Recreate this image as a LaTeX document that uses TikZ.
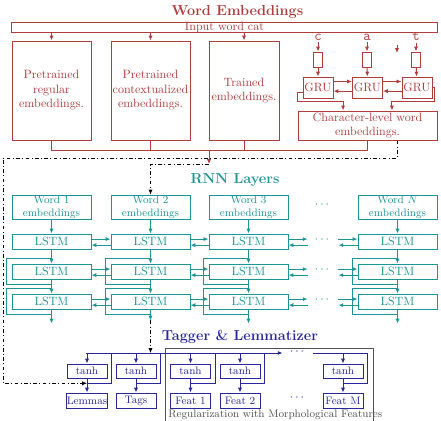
\documentclass[tikz,border=0pt]{standalone}
\usepackage{amsmath}
\usetikzlibrary{arrows.meta}
\definecolor{embred}{RGB}{176,60,60}
\definecolor{rnnteal}{RGB}{30,148,148}
\definecolor{tagblue}{RGB}{40,40,155}
\definecolor{reggray}{RGB}{80,80,80}

\begin{document}
\begin{tikzpicture}[x=0.83pt, y=-0.83pt, line width=0.8pt,
  tip/.style={-{Latex[length=4pt,width=3.4pt]}},
  redbox/.style={draw=embred, text=embred, align=center, inner sep=0pt},
  gru/.style={redbox, minimum width=24.9pt, minimum height=17.4pt},
  tealbox/.style={draw=rnnteal, text=rnnteal, align=center, inner sep=0pt, minimum width=65.6pt},
  lstm/.style={tealbox, minimum height=12.45pt},
  wordbox/.style={tealbox, font=\small, minimum height=19.9pt},
  bluebox/.style={draw=tagblue, text=tagblue, inner sep=0pt, font=\small, minimum width=33.2pt},
  dots/.style={inner xsep=5.7pt, inner ysep=0pt},
  dd/.style={black, dash dot, line width=0.6pt},
  title/.style={font=\large\bfseries, inner sep=1pt}]

\useasboundingbox (0,0) rectangle (441,420);

% word embeddings
\path
(237.5,12) node[title, text=embred] (ttlemb) {Word Embeddings};
\node[redbox, minimum width=352.8pt, minimum height=8.3pt, text height=6pt, text depth=1pt] (input) at (224.5,27) {Input word cat};
\node[redbox, minimum width=65.6pt, minimum height=82.2pt] (emb1) at (51.5,90.5) {Pretrained\\regular\\embeddings.};
\node[redbox, minimum width=65.6pt, minimum height=82.2pt] (emb2) at (150.5,90.5) {Pretrained\\contextualized\\embeddings.};
\node[redbox, minimum width=58.1pt, minimum height=82.2pt] (emb3) at (244,90.5) {Trained\\embeddings.};
\node[redbox, minimum width=115.4pt, minimum height=24.1pt] (chr) at (367.5,125.5) {Character-level word\\embeddings.};

\node[text=embred, font=\large\ttfamily, inner sep=1pt] (chc) at (318,37) {c};
\node[text=embred, font=\large\ttfamily, inner sep=1pt] (cha) at (367,37) {a};
\node[text=embred, font=\large\ttfamily, inner sep=1pt] (cht) at (416,37) {t};
\node[redbox, minimum width=7.5pt, minimum height=12.45pt] (sbc) at (318,59.5) {};
\node[redbox, minimum width=7.5pt, minimum height=12.45pt] (sba) at (367,59.5) {};
\node[redbox, minimum width=7.5pt, minimum height=12.45pt] (sbt) at (416,59.5) {};
\node[gru] (gruc) at (318,87.5) {GRU};
\node[gru] (grua) at (367.5,87.5) {GRU};
\node[gru] (grut) at (417,87.5) {GRU};
\coordinate (stray) at (397,45);

\draw[embred, tip] (input.south -| emb1.north) -- (emb1.north);
\draw[embred, tip] (input.south -| emb2.north) -- (emb2.north);
\draw[embred, tip] (input.south -| emb3.north) -- (emb3.north);
\draw[embred, tip] (stray) -- ++(0,8);
\draw[embred, tip] (chc) -- (sbc);
\draw[embred, tip] (cha) -- (sba);
\draw[embred, tip] (cht) -- (sbt);
\draw[embred, tip] (sbc) -- (gruc);
\draw[embred, tip] (sba) -- (grua);
\draw[embred, tip] (sbt) -- (grut);
\draw[embred, tip] ([yshift=5pt]gruc.east) -- ([yshift=5pt]grua.west);
\draw[embred, tip] ([yshift=-3pt]grua.west) -- ([yshift=-3pt]gruc.east);
\draw[embred, tip] ([yshift=5pt]grua.east) -- ([yshift=5pt]grut.west);
\draw[embred, tip] ([yshift=-3pt]grut.west) -- ([yshift=-3pt]grua.east);
\draw[embred, tip] ([yshift=-4pt]gruc.west) -- ++(-5,0) |- ([xshift=-20.3pt,yshift=7.5pt]chr.north) -- ([xshift=-20.3pt]chr.north);
\draw[embred, tip] (grut.east) -- ++(2,0) |- ([xshift=20.3pt,yshift=7.5pt]chr.north) -- ([xshift=20.3pt]chr.north);

\draw[embred] (emb1.south) -- ++(0,10) -| (chr.south);
\draw[embred] (emb2.south) -- ++(0,10);
\draw[embred] (emb3.south) -- ++(0,10);
\coordinate (embout) at (209,150);
\draw[embred, tip] (embout) -- ++(0,14) coordinate (embtip);
\coordinate (ddleft) at (3,158);

% rnn layers
\path
(235,180) node[title, text=rnnteal] (ttlrnn) {RNN Layers};
\node[wordbox] (w1) at (51.5,207) {Word 1\\embeddings};
\node[wordbox] (w2) at (150.5,207) {Word 2\\embeddings};
\node[wordbox] (w3) at (248.5,207) {Word 3\\embeddings};
\node[wordbox] (w4) at (397.5,207) {Word $N$\\embeddings};
\node[text=rnnteal] (wdots) at (323,205) {$\cdots$};

\node[lstm] (l11) at (51.5,241.5) {LSTM};
\node[lstm] (l12) at (150.5,241.5) {LSTM};
\node[lstm] (l13) at (248.5,241.5) {LSTM};
\node[lstm] (l14) at (397.5,241.5) {LSTM};
\node[lstm] (l21) at (51.5,271.5) {LSTM};
\node[lstm] (l22) at (150.5,271.5) {LSTM};
\node[lstm] (l23) at (248.5,271.5) {LSTM};
\node[lstm] (l24) at (397.5,271.5) {LSTM};
\node[lstm] (l31) at (51.5,301.5) {LSTM};
\node[lstm] (l32) at (150.5,301.5) {LSTM};
\node[lstm] (l33) at (248.5,301.5) {LSTM};
\node[lstm] (l34) at (397.5,301.5) {LSTM};
\node[dots, text=rnnteal] (d1) at (323,240) {$\cdots$};
\node[dots, text=rnnteal] (d2) at (323,270) {$\cdots$};
\node[dots, text=rnnteal] (d3) at (323,300) {$\cdots$};

\foreach \c in {1,...,4} {
  \draw[rnnteal, tip] (w\c) -- (l1\c);
  \draw[rnnteal, tip] (l1\c) -- (l2\c);
  \draw[rnnteal, tip] (l2\c) -- (l3\c);
  \draw[rnnteal] ([yshift=4.5pt]l2\c.north) -| ([xshift=-4pt,yshift=-4pt]l2\c.south west) -- ([yshift=-4pt]l2\c.south);
  \draw[rnnteal] ([yshift=4.5pt]l3\c.north) -| ([xshift=-4pt,yshift=-4pt]l3\c.south west) -- ([yshift=-4pt]l3\c.south);
}
\draw[rnnteal, tip] (l31.south) -- ++(0,14);
\draw[rnnteal, tip] (l32.south) -- ++(0,11) coordinate (rnnout);
\draw[rnnteal, tip] (l33.south) -- ++(0,14);
\draw[rnnteal, tip] (l34.south) -- ++(0,14);

\foreach \r in {1,2,3} {
  \draw[rnnteal, tip] ([yshift=2pt]l\r1.east) -- ([yshift=2pt]l\r2.west);
  \draw[rnnteal, tip] ([yshift=-3pt]l\r2.west) -- ([yshift=-3pt]l\r1.east);
  \draw[rnnteal, tip] ([yshift=2pt]l\r2.east) -- ([yshift=2pt]l\r3.west);
  \draw[rnnteal, tip] ([yshift=-3pt]l\r3.west) -- ([yshift=-3pt]l\r2.east);
  \draw[rnnteal, tip] ([yshift=2pt]l\r3.east) -- ([yshift=2pt]l\r3.east -| d\r.west);
  \draw[rnnteal, tip] ([yshift=-3pt]l\r3.east -| d\r.west) -- ([yshift=-3pt]l\r3.east);
  \draw[rnnteal, tip] ([yshift=2pt]l\r4.west -| d\r.east) -- ([yshift=2pt]l\r4.west);
  \draw[rnnteal, tip] ([yshift=-3pt]l\r4.west) -- ([yshift=-3pt]l\r4.west -| d\r.east);
}

% tagger and lemmatizer
\path
(240,337) node[title, text=tagblue] (ttltag) {Tagger \& Lemmatizer};
\node[draw=reggray, minimum width=172.6pt, minimum height=61.4pt, inner sep=0pt] (reg) at (269,385) {};
\node[font=\small, text=reggray, anchor=base west, inner sep=0pt] (regcap) at (168,417) {Regularization with Morphological Features};

\node[bluebox, minimum height=11.6pt] (tlem) at (87,371) {tanh};
\node[bluebox, minimum height=11.6pt] (ttag) at (136,371) {tanh};
\node[bluebox, minimum height=11.6pt] (tf1) at (190.5,371) {tanh};
\node[bluebox, minimum height=11.6pt] (tf2) at (240,371) {tanh};
\node[bluebox, minimum height=11.6pt] (tfm) at (343,371) {tanh};
\node[bluebox, minimum height=12.45pt] (olem) at (87,400.5) {Lemmas};
\node[bluebox, minimum height=12.45pt] (otag) at (136,400.5) {Tags};
\node[bluebox, minimum height=12.45pt] (of1) at (190.5,400.5) {Feat 1};
\node[bluebox, minimum height=12.45pt] (of2) at (240,400.5) {Feat 2};
\node[bluebox, minimum height=12.45pt] (ofm) at (343,400.5) {Feat M};
\node[dots, text=tagblue] (bdots) at (298,352) {$\cdots$};
\node[dots, text=tagblue] (fdots) at (298,398) {$\cdots$};

\coordinate (bus) at (86,353);
\draw[tagblue, tip] (bus) -- (bdots.west |- bus);
\draw[tagblue] (bdots.east |- bus) -- ([xshift=3.5pt]tfm.east |- bus);
\foreach \t/\o in {tlem/olem, ttag/otag, tf1/of1, tf2/of2, tfm/ofm} {
  \draw[tagblue, tip] (\t.north |- bus) -- (\t.north);
  \draw[tagblue, tip] (\t) -- (\o);
  \draw[tagblue] ([xshift=3.5pt]\t.east |- bus) |- ([yshift=-4pt]\t.south);
}

% dash-dotted links
\draw[dd, tip] (embtip) -| (w2.north);
\draw[dd, tip] (rnnout) -- (rnnout |- bus);
\draw[dd, tip] ([xshift=24.5pt]chr.south) |- (ddleft) |- ([yshift=-4pt]tlem.south);
\end{tikzpicture}
\end{document}
